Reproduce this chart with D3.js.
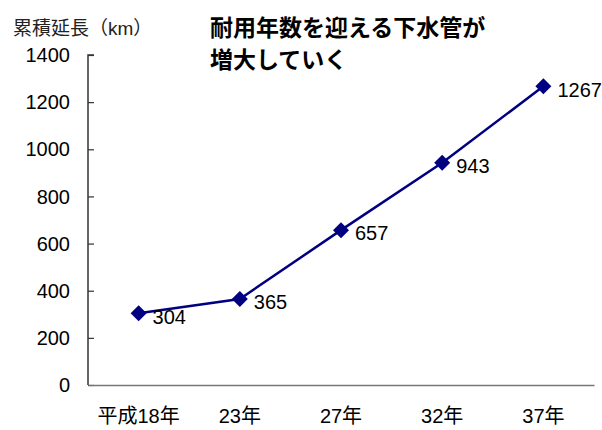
<!DOCTYPE html>
<html><head><meta charset="utf-8">
<script src="https://cdn.jsdelivr.net/npm/d3@7"></script>
<style>body{margin:0;background:#fff}svg{display:block}</style>
</head><body>
<script>
const categories = ["平成18年","23年","27年","32年","37年"];
const values = [304,365,657,943,1267];
const yTicks = [0,200,400,600,800,1000,1200,1400];
const yTitle = "累積延長（km）";
const titleLines = ["耐用年数を迎える下水管が","増大していく"];

(function(){
const W=602,H=430;
const svg=d3.select("body").append("svg").attr("width",W).attr("height",H);
const font="'Liberation Sans', Arial, 'Noto Sans CJK JP', sans-serif";
const mL=88,mR=594,mT=55,mB=385;
const x=d3.scaleBand().domain(categories).range([mL,mR]);
const y=d3.scaleLinear().domain([0,1400]).range([mB,mT]);

// axes
const ya=svg.append("g").attr("transform",`translate(${mL},0)`)
  .call(d3.axisRight(y).tickValues(yTicks).tickSize(6).tickFormat(""));
ya.select(".domain").attr("stroke","#333").attr("stroke-width",1.5).attr("d",`M6,${mT}H0V${mB}`);
ya.selectAll(".tick line").attr("stroke","#333").attr("stroke-width",1.2);
svg.append("g").selectAll("text").data(yTicks).join("text")
  .attr("x",70).attr("y",d=>y(d)).attr("dy","0.36em").attr("text-anchor","end")
  .attr("font-family",font).attr("font-size",20).attr("fill","#000").text(d=>d);

const xa=svg.append("g").attr("transform",`translate(0,${mB})`)
  .call(d3.axisBottom(x).tickSize(0).tickFormat(""));
xa.select(".domain").attr("stroke","#777").attr("stroke-width",1.5);
svg.append("g").selectAll("text").data(categories).join("text")
  .attr("x",d=>x(d)+x.bandwidth()/2).attr("y",416).attr("dy","0.36em").attr("text-anchor","middle")
  .attr("font-family",font).attr("font-size",20).attr("fill","#000").text(d=>d);

// line
const pts=categories.map((c,i)=>[x(c)+x.bandwidth()/2,y(values[i])]);
svg.append("path").attr("d",d3.line()(pts)).attr("fill","none").attr("stroke","#000080").attr("stroke-width",2.5);
svg.append("g").selectAll("path").data(pts).join("path")
  .attr("transform",d=>`translate(${d[0]},${d[1]})`)
  .attr("d","M0,-8L8,0L0,8L-8,0Z").attr("fill","#000080");
svg.append("g").selectAll("text").data(values).join("text")
  .attr("x",(d,i)=>pts[i][0]+14).attr("y",(d,i)=>pts[i][1]+3).attr("dy","0.36em")
  .attr("font-family",font).attr("font-size",20).attr("fill","#000").text(d=>d);

// titles
svg.append("text").attr("x",13).attr("y",28).attr("dy","0.36em")
  .attr("font-family",font).attr("font-size",19).attr("fill","#222").text(yTitle);
svg.append("g").selectAll("text").data(titleLines).join("text")
  .attr("x",210).attr("y",(d,i)=>28+i*32).attr("dy","0.36em")
  .attr("font-family","'Noto Sans CJK JP', sans-serif").attr("font-weight","bold")
  .attr("font-size",23).attr("fill","#000").text(d=>d);
})();
</script>
</body></html>
